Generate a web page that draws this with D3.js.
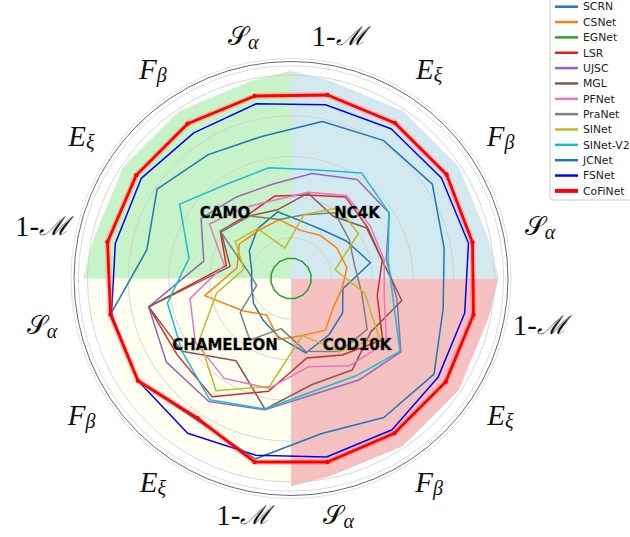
<!DOCTYPE html>
<html>
<head>
<meta charset="utf-8">
<script src="https://cdn.jsdelivr.net/npm/d3@7"></script>
<style>
  body { margin: 0; background: #fff; }
  svg { display: block; }
</style>
</head>
<body>
<div id="chart"></div>
<script>
// datasets go clockwise from the top right quadrant
var datasets = ["NC4K", "COD10K", "CHAMELEON", "CAMO"];
var metrics = ["1-M", "E", "F", "S"];
var models = ["SCRN", "CSNet", "EGNet", "LSR", "UJSC", "MGL", "PFNet", "PraNet",
              "SINet", "SINet-V2", "JCNet", "FSNet", "CoFiNet"];
var colors = ["#1f77b4", "#ff7f0e", "#2ca02c", "#d62728", "#9467bd", "#8c564b", "#e377c2",
              "#7f7f7f", "#bcbd22", "#17becf", "#1f77b4", "#0000ff", "#ff0000"];
var gridTicks = [0.2, 0.4, 0.6, 0.8, 1.0];

// normalised scores, 16 per model: NC4K(1-M,E,F,S) COD10K(..) CHAMELEON(..) CAMO(..)
var SCRN     = [0.285,0.285,0.329,0.398,0.260,0.305,0.334,0.373,0.295,0.246,0.221,0.197,0.197,0.246,0.295,0.334];
var CSNet    = [0.241,0.256,0.270,0.280,0.256,0.251,0.305,0.285,0.305,0.216,0.285,0.432,0.270,0.305,0.285,0.295];
var EGNet    = [0.1,0.1,0.1,0.1,0.1,0.1,0.1,0.1,0.1,0.1,0.1,0.1,0.1,0.1,0.1,0.1];
var LSR      = [0.418,0.482,0.452,0.457,0.432,0.541,0.452,0.398,0.565,0.698,0.673,0.713,0.324,0.418,0.378,0.413];
var UJSC     = [0.526,0.585,0.580,0.477,0.531,0.649,0.600,0.580,0.658,0.727,0.737,0.713,0.437,0.531,0.482,0.472];
var MGL      = [0.428,0.369,0.447,0.457,0.555,0.472,0.541,0.531,0.654,0.486,0.644,0.713,0.305,0.413,0.369,0.344];
var PFNet    = [0.432,0.491,0.467,0.467,0.467,0.565,0.516,0.442,0.550,0.590,0.565,0.506,0.334,0.482,0.418,0.393];
var PraNet   = [0.319,0.388,0.344,0.319,0.354,0.450,0.432,0.364,0.251,0.364,0.300,0.172,0.221,0.418,0.369,0.295];
var SINet    = [0.319,0.418,0.398,0.221,0.369,0.521,0.432,0.285,0.541,0.663,0.541,0.373,0.236,0.329,0.295,0.152];
var SINetV2  = [0.545,0.624,0.580,0.486,0.511,0.644,0.575,0.565,0.654,0.717,0.644,0.619,0.511,0.658,0.560,0.555];
var JCNet    = [0.786,0.816,0.835,0.767,0.762,0.845,0.821,0.776,0.904,0.835,0.904,0.904,0.722,0.791,0.732,0.713];
var FSNet    = [0.870,0.885,0.889,0.889,0.870,0.870,0.894,0.894,0.885,0.914,0.904,0.899,0.880,0.885,0.860,0.875];
var CoFiNet  = [0.919,0.919,0.919,0.909,0.914,0.914,0.914,0.919,0.919,0.826,0.904,0.904,0.919,0.914,0.914,0.914];

var series = [SCRN, CSNet, EGNet, LSR, UJSC, MGL, PFNet, PraNet, SINet, SINetV2, JCNet, FSNet, CoFiNet];

var w = 630, h = 537;
var cx = 291, cy = 278.5;
var R = 217;
var n = 16;

var r = d3.scaleLinear().domain([0, 1.066]).range([0, R]);
var angle = d3.scaleLinear().domain([0, n]).range([0, 2 * Math.PI]);
function axisAngle(i) { return angle(i + 0.5); }

var svg = d3.select("#chart").append("svg")
    .attr("width", w)
    .attr("height", h);

var g = svg.append("g").attr("transform", "translate(" + cx + "," + cy + ")");

// quadrant backgrounds
var quadColors = ["#d3e9f0", "#f6c1c1", "#fefff0", "#c8f3c8"];
datasets.forEach(function (ds, q) {
  var pts = [[0, 0], [angle(q * 4), r(1.02)]];
  for (var j = 0; j < 4; j++) pts.push([axisAngle(q * 4 + j), r(0.99)]);
  pts.push([angle(q * 4 + 4), r(1.02)]);
  g.append("path")
    .attr("d", d3.lineRadial().angle(function (d) { return d[0]; }).radius(function (d) { return d[1]; })
      .curve(d3.curveLinearClosed)(pts))
    .attr("fill", quadColors[q])
    .attr("stroke", "none");
});

// grid
g.selectAll(".grid")
  .data(gridTicks)
  .enter()
  .append("circle")
  .attr("class", "grid")
  .attr("r", function (d) { return r(d); })
  .attr("fill", "none")
  .attr("stroke", "#cccccc")
  .attr("stroke-width", 0.8);

g.append("circle").attr("r", r(1.045)).attr("fill", "none").attr("stroke", "#dddddd").attr("stroke-width", 1);
g.append("circle").attr("r", R).attr("fill", "none").attr("stroke", "#444").attr("stroke-width", 0.8);
g.append("circle").attr("r", R + 3).attr("fill", "none").attr("stroke", "#e0e0e0").attr("stroke-width", 1);

var line = d3.lineRadial()
  .angle(function (d, i) { return axisAngle(i); })
  .radius(function (d) { return r(d); })
  .curve(d3.curveLinearClosed);

series.forEach(function (s, i) {
  if (models[i] == "CoFiNet") {
    g.append("path").attr("d", line(s)).attr("fill", "none")
      .attr("stroke", "#ff6666").attr("stroke-opacity", 0.35).attr("stroke-width", 6)
      .attr("stroke-linejoin", "round");
    g.append("path").attr("d", line(s)).attr("fill", "none")
      .attr("stroke", colors[i]).attr("stroke-width", 2.8).attr("stroke-linejoin", "round");
    g.selectAll(".dot").data(s).enter().append("circle")
      .attr("class", "dot")
      .attr("cx", function (d, k) { return r(d) * Math.sin(axisAngle(k)); })
      .attr("cy", function (d, k) { return -r(d) * Math.cos(axisAngle(k)); })
      .attr("r", 2.2)
      .attr("fill", colors[i]);
  } else {
    g.append("path").attr("d", line(s)).attr("fill", "none")
      .attr("stroke", colors[i]).attr("stroke-width", 1.5)
      .attr("stroke-linejoin", "round");
  }
});

// metric labels, pushed a bit further out at the sides where they are wide
function labR(i) { return 242 + 12 * Math.abs(Math.sin(axisAngle(i))); }
var lab = g.selectAll(".axlab")
  .data(d3.range(n))
  .enter()
  .append("text")
  .attr("class", "axlab")
  .attr("x", function (i) { return labR(i) * Math.sin(axisAngle(i)); })
  .attr("y", function (i) { return -labR(i) * Math.cos(axisAngle(i)) - 3; })
  .attr("text-anchor", "middle")
  .attr("dominant-baseline", "central")
  .style("font-family", "'Liberation Serif', 'DejaVu Serif', serif")
  .style("font-size", "29px")
  .style("fill", "#111");

lab.each(function (i) {
  var t = d3.select(this);
  var m = metrics[i % 4];
  if (m == "1-M") {
    t.append("tspan").text("1-");
    t.append("tspan").text("\u2133").style("font-style", "italic").style("font-size", "26px");
  } else if (m == "E") {
    t.append("tspan").text("E").style("font-style", "italic");
    t.append("tspan").text("\u03be").style("font-style", "italic").style("font-size", "20px").attr("dy", 6);
  } else if (m == "F") {
    t.append("tspan").text("F").style("font-style", "italic");
    t.append("tspan").text("\u03b2").style("font-style", "italic").style("font-size", "20px").attr("dy", 6);
  } else {
    t.append("tspan").text("\ud835\udcae").style("font-size", "26px");
    t.append("tspan").text("\u03b1").style("font-style", "italic").style("font-size", "20px").attr("dy", 6);
  }
});

// dataset names
var dsPos = [[1, -1], [1, 1], [-1, 1], [-1, -1]];
g.selectAll(".dslab")
  .data(datasets)
  .enter()
  .append("text")
  .attr("class", "dslab")
  .attr("x", function (d, i) { return dsPos[i][0] * 66; })
  .attr("y", function (d, i) { return dsPos[i][1] * 66; })
  .attr("text-anchor", "middle")
  .attr("dominant-baseline", "central")
  .style("font-family", "'DejaVu Sans', sans-serif")
  .style("font-weight", "bold")
  .style("font-size", "15px")
  .style("fill", "#000")
  .style("stroke", "rgba(120,120,120,0.35)")
  .style("stroke-width", 1.6)
  .style("paint-order", "stroke")
  .text(function (d) { return d; });

// legend
var leg = svg.append("g");
leg.append("rect")
  .attr("x", 550).attr("y", -4)
  .attr("width", 90).attr("height", 204)
  .attr("rx", 3)
  .attr("fill", "#fff")
  .attr("stroke", "#cccccc")
  .attr("stroke-width", 1);

var item = leg.selectAll(".item")
  .data(models)
  .enter()
  .append("g")
  .attr("transform", function (d, i) { return "translate(0," + (6.7 + i * 15.35) + ")"; });

item.append("line")
  .attr("x1", 555).attr("x2", 578)
  .attr("stroke", function (d, i) { return colors[i]; })
  .attr("stroke-width", function (d) { return d == "CoFiNet" ? 4 : 2.5; });

item.append("text")
  .attr("x", 583)
  .attr("dy", "0.35em")
  .style("font-family", "'DejaVu Sans', sans-serif")
  .style("font-size", "10.8px")
  .style("fill", "#222")
  .text(function (d) { return d; });
</script>
</body>
</html>
